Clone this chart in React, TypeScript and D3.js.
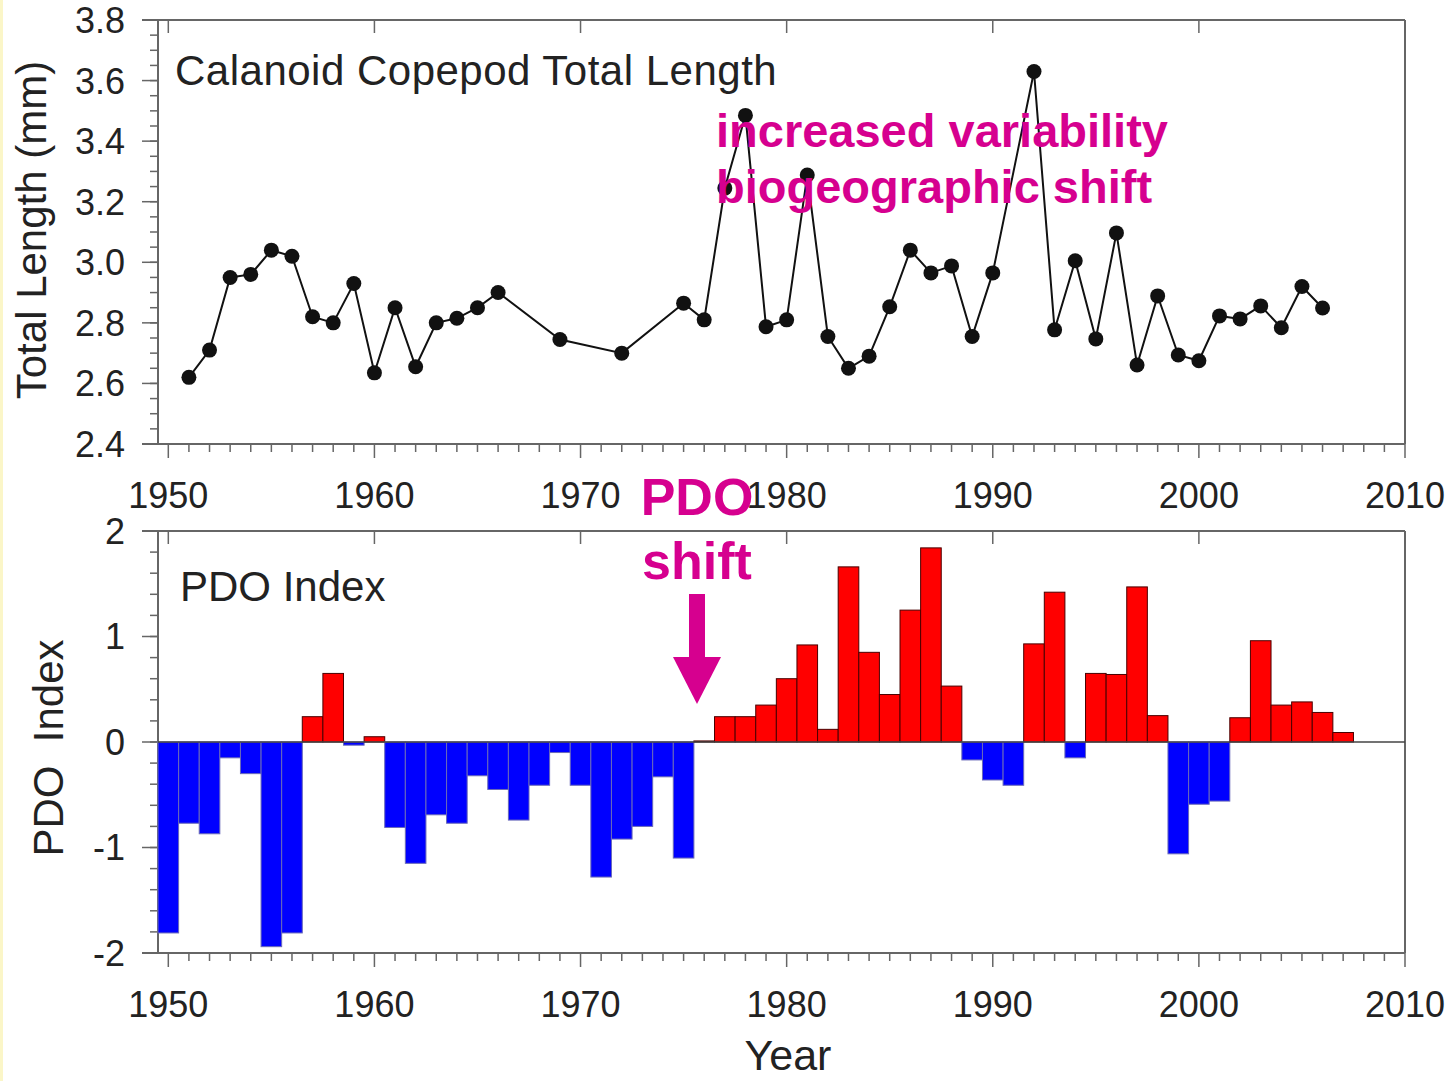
import * as d3 from "d3"

const lengthYears = [
  1951, 1952, 1953, 1954, 1955, 1956, 1957, 1958, 1959, 1960, 1961, 1962, 1963, 1964, 1965, 1966,
  1969, 1972, 1975, 1976, 1977, 1978, 1979, 1980, 1981, 1982, 1983, 1984, 1985, 1986, 1987, 1988,
  1989, 1990, 1992, 1993, 1994, 1995, 1996, 1997, 1998, 1999, 2000, 2001, 2002, 2003, 2004, 2005, 2006,
]
const lengthValues = [
  2.62, 2.71, 2.95, 2.96, 3.04, 3.02, 2.82, 2.8, 2.93, 2.635, 2.85, 2.655, 2.8, 2.815, 2.85, 2.9,
  2.745, 2.7, 2.865, 2.81, 3.245, 3.485, 2.787, 2.81, 3.288, 2.755, 2.65, 2.69, 2.853, 3.04, 2.965, 2.988,
  2.755, 2.965, 3.63, 2.777, 3.005, 2.747, 3.097, 2.661, 2.889, 2.694, 2.675, 2.823, 2.813, 2.856, 2.784, 2.92, 2.849,
]

const pdoYears = d3.range(1950, 2008)
const pdoValues = [
  -1.81, -0.77, -0.87, -0.15, -0.3, -1.94, -1.81, 0.24, 0.65, -0.03,
  0.05, -0.81, -1.15, -0.69, -0.77, -0.32, -0.45, -0.74, -0.41, -0.1,
  -0.41, -1.28, -0.92, -0.8, -0.33, -1.1, 0.01, 0.24, 0.24, 0.35,
  0.6, 0.92, 0.12, 1.66, 0.85, 0.45, 1.25, 1.84, 0.53, -0.17,
  -0.36, -0.41, 0.93, 1.42, -0.15, 0.65, 0.64, 1.47, 0.25, -1.06,
  -0.59, -0.56, 0.23, 0.96, 0.35, 0.38, 0.28, 0.09,
]

const decadeTicks = [1950, 1960, 1970, 1980, 1990, 2000, 2010]
const lengthTicks = [2.4, 2.6, 2.8, 3.0, 3.2, 3.4, 3.6, 3.8]
const pdoTicks = [-2, -1, 0, 1, 2]

const W = 1456
const H = 1081
const left = 158
const right = 1405
const magenta = "#d6008f"
const axisColor = "#666"
const font = "'Liberation Sans', Arial, sans-serif"

const x = d3.scaleLinear().domain([1949.5, 2010]).range([left, right])
const yTop = d3.scaleLinear().domain([2.4, 3.8]).range([444, 20])
const yBot = d3.scaleLinear().domain([-2, 2]).range([953, 531])

function Frame({ y, minorY, majorY, yLabels, fmt }: {
  y: d3.ScaleLinear<number, number>
  minorY: number[]
  majorY: number[]
  yLabels: number[]
  fmt: (v: number) => string
}) {
  const [y0, y1] = y.range()
  const minorX = d3.range(1950, 2011)
  return (
    <g>
      {/* frame */}
      <line x1={142} x2={right} y1={y1} y2={y1} stroke={axisColor} strokeWidth={2} />
      <line x1={142} x2={right} y1={y0} y2={y0} stroke={axisColor} strokeWidth={2} />
      <line x1={left} x2={left} y1={y1} y2={y0} stroke={axisColor} strokeWidth={2} />
      <line x1={right} x2={right} y1={y1} y2={y0} stroke={axisColor} strokeWidth={2} />
      {/* y ticks */}
      {minorY.map((v) => (
        <line key={"mn" + v} x1={150} x2={left} y1={y(v)} y2={y(v)} stroke={axisColor} strokeWidth={1.5} />
      ))}
      {majorY.map((v) => (
        <line key={"mj" + v} x1={142} x2={left} y1={y(v)} y2={y(v)} stroke={axisColor} strokeWidth={1.5} />
      ))}
      {yLabels.map((v) => (
        <text key={"yl" + v} x={125} y={y(v)} dy="0.36em" textAnchor="end" fontSize={36} fill="#222" fontFamily={font}>
          {fmt(v)}
        </text>
      ))}
      {/* x ticks */}
      {minorX.map((yr) => (
        <line key={"xm" + yr} x1={x(yr)} x2={x(yr)} y1={y0} y2={y0 + (yr % 10 === 0 ? 14 : 8)} stroke={axisColor} strokeWidth={1.5} />
      ))}
      {decadeTicks.map((yr) => (
        <line key={"xt" + yr} x1={x(yr)} x2={x(yr)} y1={y1} y2={y1 + 13} stroke={axisColor} strokeWidth={1.5} />
      ))}
      {decadeTicks.map((yr) => (
        <text key={"xl" + yr} x={x(yr)} y={y0 + 64} textAnchor="middle" fontSize={36} fill="#222" fontFamily={font}>
          {yr}
        </text>
      ))}
    </g>
  )
}

export default function App() {
  const line = d3
    .line<number>()
    .x((_, i) => x(lengthYears[i]))
    .y((d) => yTop(d))

  const barW = x(1951) - x(1950)

  return (
    <div style={{ position: "absolute", left: 0, top: 0 }}>
      <svg width={W} height={H} viewBox={`0 0 ${W} ${H}`} style={{ display: "block", background: "#fff" }}>
        <rect x={0} y={0} width={3} height={H} fill="#fbf6c8" />

        {/* top panel */}
        <Frame
          y={yTop}
          minorY={d3.range(2.4, 3.81, 0.05)}
          majorY={lengthTicks}
          yLabels={lengthTicks}
          fmt={(v) => v.toFixed(1)}
        />
        <text x={175} y={85} fontSize={42} fill="#222" fontFamily={font} letterSpacing={0.5}>
          Calanoid Copepod Total Length
        </text>
        <path d={line(lengthValues) || ""} fill="none" stroke="#111" strokeWidth={2} />
        {lengthValues.map((v, i) => (
          <circle key={i} cx={x(lengthYears[i])} cy={yTop(v)} r={7.5} fill="#111" />
        ))}
        <text transform="translate(46,230) rotate(-90)" textAnchor="middle" fontSize={42} fill="#222" fontFamily={font}>
          Total Length (mm)
        </text>
        <text x={716} y={147} fontSize={47} fontWeight="bold" fill={magenta} fontFamily={font}>
          increased variability
        </text>
        <text x={716} y={203} fontSize={47} fontWeight="bold" fill={magenta} fontFamily={font}>
          biogeographic shift
        </text>

        {/* bottom panel */}
        <Frame
          y={yBot}
          minorY={d3.range(-2, 2.01, 0.2)}
          majorY={pdoTicks}
          yLabels={pdoTicks}
          fmt={(v) => String(v)}
        />
        <text x={180} y={601} fontSize={42} fill="#222" fontFamily={font}>
          PDO Index
        </text>
        {pdoValues.map((v, i) => {
          const yr = pdoYears[i]
          const y0 = yBot(Math.max(0, v))
          const y1 = yBot(Math.min(0, v))
          return (
            <rect
              key={yr}
              x={x(yr) - barW / 2}
              y={y0}
              width={barW}
              height={Math.max(1, y1 - y0)}
              fill={v >= 0 ? "#ff0000" : "#0000ff"}
              stroke={v >= 0 ? "#4a0000" : "#6a6ab8"}
              strokeWidth={1}
            />
          )
        })}
        <line x1={left} x2={right} y1={yBot(0)} y2={yBot(0)} stroke="#444" strokeWidth={1.5} />
        <text
          transform="translate(63,748) rotate(-90)"
          textAnchor="middle"
          fontSize={42}
          fill="#222"
          fontFamily={font}
          style={{ whiteSpace: "pre" }}
        >
          {"PDO  Index"}
        </text>
        <text x={788} y={1070} textAnchor="middle" fontSize={43} fill="#222" fontFamily={font}>
          Year
        </text>

        {/* PDO shift annotation */}
        <text x={697} y={515} textAnchor="middle" fontSize={52} fontWeight="bold" fill={magenta} fontFamily={font}>
          PDO
        </text>
        <text x={697} y={579} textAnchor="middle" fontSize={52} fontWeight="bold" fill={magenta} fontFamily={font}>
          shift
        </text>
        <rect x={689} y={594} width={16} height={64} fill={magenta} />
        <path d="M673,657 L721,657 L697,704 Z" fill={magenta} />
      </svg>
    </div>
  )
}
